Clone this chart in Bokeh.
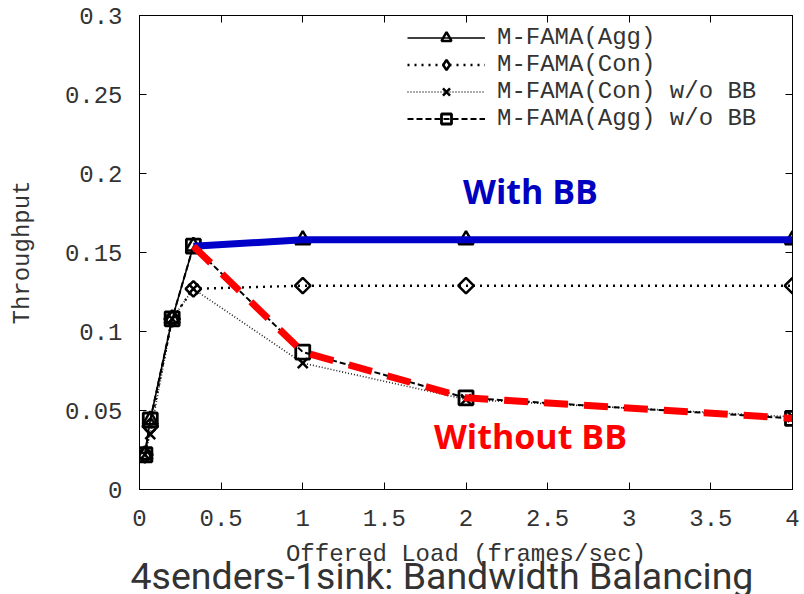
import math
from bokeh.plotting import figure
from bokeh.models import (LinearAxis, Label, Legend, LegendItem, FixedTicker, Range1d,
                          Title, CustomLabelingPolicy)
from bokeh.embed import file_html
from bokeh.resources import INLINE

# Offered load (frames/sec) and measured throughput per protocol variant
load = [0.033, 0.066, 0.2, 0.33, 1, 2, 4]
agg = [0.022, 0.044, 0.108, 0.154, 0.158, 0.158, 0.158]
con = [0.022, 0.040, 0.108, 0.127, 0.129, 0.129, 0.129]
con_nobb = [0.022, 0.035, 0.108, 0.127, 0.080, 0.057, 0.046]
agg_nobb = [0.022, 0.044, 0.108, 0.154, 0.087, 0.058, 0.045]

x_ticks = [0, 0.5, 1, 1.5, 2, 2.5, 3, 3.5, 4]
x_tick_labels = ["0", "0.5", "1", "1.5", "2", "2.5", "3", "3.5", "4"]
y_ticks = [0, 0.05, 0.1, 0.15, 0.2, 0.25, 0.3]
y_tick_labels = ["0", "0.05", "0.1", "0.15", "0.2", "0.25", "0.3"]

series_names = ["M-FAMA(Agg)", "M-FAMA(Con)", "M-FAMA(Con) w/o BB", "M-FAMA(Agg) w/o BB"]

MONO = "Liberation Mono"
TXT = "#333333"

p = figure(
    width=804, height=594,
    x_range=Range1d(0, 4), y_range=Range1d(0, 0.3),
    output_backend="svg", toolbar_location=None,
    min_border_left=139, min_border_right=12,
    min_border_top=15, min_border_bottom=105,
    x_axis_label="Offered Load (frames/sec)",
    y_axis_label="Throughput",
)
p.grid.visible = False
p.outline_line_color = "black"
p.background_fill_color = "white"
p.border_fill_color = "white"

# labeling policy that keeps no labels: used for the tick-only mirror axes
no_labels = CustomLabelingPolicy(
    code="for (const i of Array.from(indices)) indices.unset(i); return indices")

def style_axis(ax, ticks, labels, show_labels=True):
    ax.ticker = FixedTicker(ticks=ticks)
    ax.major_label_overrides = {t: s for t, s in zip(ticks, labels)}
    ax.major_tick_in = 7
    ax.major_tick_out = 0
    ax.minor_tick_line_color = None
    ax.axis_line_color = "black"
    ax.major_tick_line_color = "black"
    ax.major_label_text_font = MONO
    ax.major_label_text_color = TXT
    ax.major_label_text_font_size = "24px"
    ax.axis_label_text_font = MONO
    ax.axis_label_text_color = TXT
    ax.axis_label_text_font_style = "normal"
    ax.axis_label_text_font_size = "24px"
    if not show_labels:
        ax.major_label_policy = no_labels
        ax.major_label_text_font_size = "0px"
        ax.major_label_standoff = 0

style_axis(p.xaxis[0], x_ticks, x_tick_labels)
style_axis(p.yaxis[0], y_ticks, y_tick_labels)
p.xaxis[0].major_label_standoff = 20
p.xaxis[0].axis_label_standoff = 12
p.yaxis[0].major_label_standoff = 17
p.yaxis[0].axis_label_standoff = 26

# mirrored tick marks on the top and right borders
top_ax = LinearAxis()
right_ax = LinearAxis()
style_axis(top_ax, x_ticks, x_tick_labels, show_labels=False)
style_axis(right_ax, y_ticks, y_tick_labels, show_labels=False)
p.add_layout(top_ax, "above")
p.add_layout(right_ax, "right")

# measured series
l_agg = p.line(load, agg, line_color="black", line_width=1.6)
m_agg = p.scatter(load, agg, marker="triangle", size=15, fill_color=None,
                  line_color="black", line_width=2.5)

l_con = p.line(load, con, line_color="black", line_width=2.4, line_dash="2 5")
m_con = p.scatter(load, con, marker="square", size=11, angle=math.pi / 4,
                  fill_color=None, line_color="black", line_width=2.5)
# key glyph for the legend (legend markers are drawn unrotated)
k_con = p.scatter(load, con, marker="diamond", size=15, fill_color=None,
                  line_color="black", line_width=2.5, visible=False)

l_cnb = p.line(load, con_nobb, line_color="#222222", line_width=1.6, line_dash="1 2")
m_cnb = p.scatter(load, con_nobb, marker="x", size=14,
                  line_color="black", line_width=2.5)

l_anb = p.line(load, agg_nobb, line_color="black", line_width=2.0, line_dash="6 3")
m_anb = p.scatter(load, agg_nobb, marker="square", size=14, fill_color=None,
                  line_color="black", line_width=2.8)

# highlighted trends with and without bandwidth balancing
p.line(load[3:], agg[3:], line_color="#0000c8", line_width=7)
p.line(load[3:], agg_nobb[3:], line_color="#ff0000", line_width=7, line_dash="24 16")

p.add_layout(Label(x=2.395, y=0.189, text="With BB", text_align="center",
                   text_baseline="middle", text_font="Open Sans",
                   text_font_style="bold", text_font_size="34px",
                   text_color="#0000c0"))
p.add_layout(Label(x=2.395, y=0.034, text="Without BB", text_align="center",
                   text_baseline="middle", text_font="Open Sans",
                   text_font_style="bold", text_font_size="34px",
                   text_color="#ff0000"))

legend = Legend(items=[
    LegendItem(label=series_names[0], renderers=[l_agg, m_agg]),
    LegendItem(label=series_names[1], renderers=[l_con, k_con]),
    LegendItem(label=series_names[2], renderers=[l_cnb, m_cnb]),
    LegendItem(label=series_names[3], renderers=[l_anb, m_anb]),
], location=(268, 357))
legend.background_fill_alpha = 0
legend.border_line_color = None
legend.padding = 0
legend.margin = 0
legend.spacing = 0
legend.glyph_width = 78
legend.glyph_height = 25
legend.label_height = 25
legend.label_standoff = 12
legend.label_text_font = MONO
legend.label_text_font_size = "24px"
legend.label_text_color = TXT
p.add_layout(legend, "center")

p.add_layout(Title(text="4senders-1sink: Bandwidth Balancing", align="left",
                   vertical_align="top",
                   text_font="Roboto", text_font_size="37.5px",
                   text_font_style="normal", text_color="#333333",
                   standoff=-34, offset=-9), "below")

open("out.html", "w").write(file_html(p, INLINE))
